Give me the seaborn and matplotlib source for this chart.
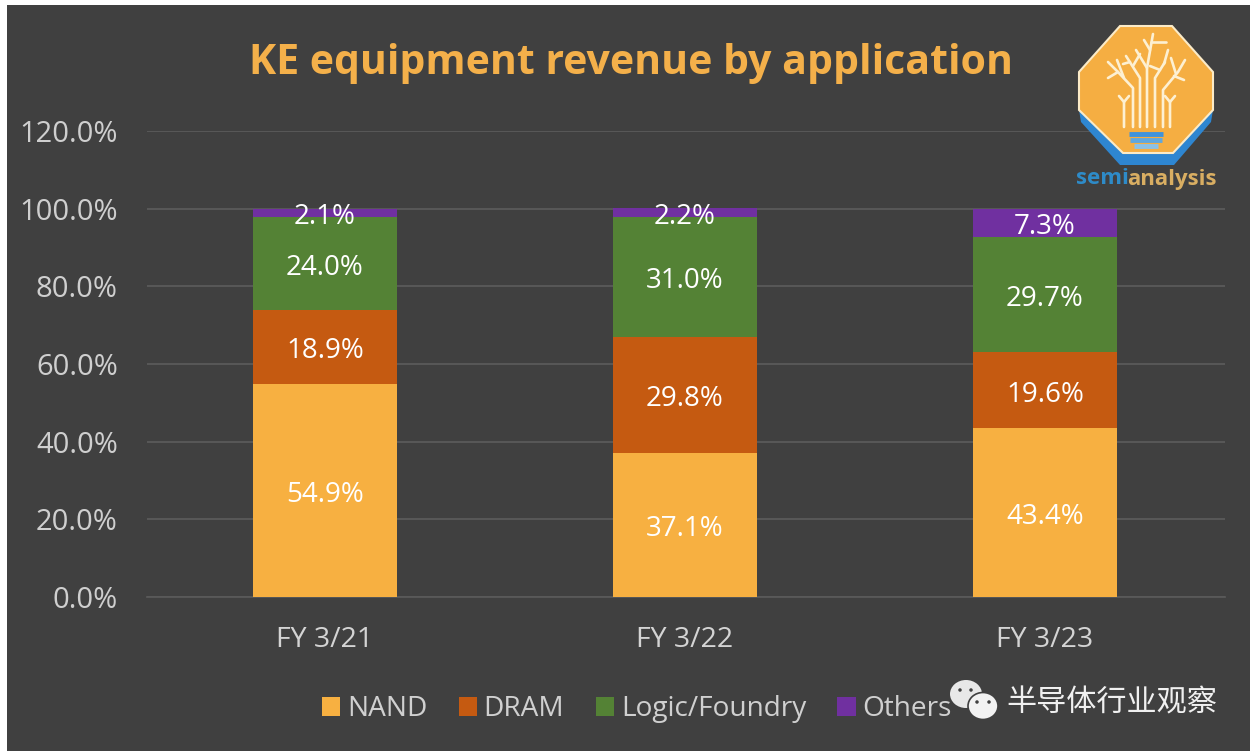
import numpy as np
import pandas as pd
import matplotlib
matplotlib.use("Agg")
import matplotlib.pyplot as plt
from matplotlib.patches import Rectangle, Polygon, Ellipse, Patch
import seaborn as sns

years = ["FY 3/21", "FY 3/22", "FY 3/23"]
nand = [54.9, 37.1, 43.4]
dram = [18.9, 29.8, 19.6]
logic = [24.0, 31.0, 29.7]
others = [2.1, 2.2, 7.3]
series_names = ["NAND", "DRAM", "Logic/Foundry", "Others"]
series_values = [nand, dram, logic, others]
colors = ["#F7B041", "#C55A11", "#548235", "#7030A0"]
yticks = [0, 20, 40, 60, 80, 100, 120]

W, H = 1253, 751
BG = "#404040"
sns.set_theme(style="dark")
plt.rcParams["font.family"] = ["Open Sans", "Noto Sans CJK SC", "DejaVu Sans"]

fig = plt.figure(figsize=(W / 100, H / 100), dpi=100, facecolor="white")
fig.add_artist(Rectangle((7 / W, 0), (1250 - 7) / W, 1 - 5 / H, transform=fig.transFigure,
                         facecolor=BG, edgecolor="none", zorder=-5))
ax = fig.add_axes([147 / W, 1 - 597 / H, (1225 - 147) / W, (597 - 131) / H])
ax.set_facecolor("none")

bottom = np.zeros(3)
for name, vals, col in zip(series_names, series_values, colors):
    df = pd.DataFrame({"year": years, "value": vals})
    sns.barplot(data=df, x="year", y="value", color=col, width=0.4, bottom=bottom,
                saturation=1, ax=ax, zorder=3, errorbar=None, linewidth=0, edgecolor="none")
    for i, v in enumerate(vals):
        ax.text(i, bottom[i] + v / 2 - 1.1, f"{v:.1f}%", ha="center", va="center",
                color="white", fontsize=20, zorder=5)
    bottom += np.array(vals)

ax.set_xlim(-0.4944, 2.5)
ax.set_ylim(0, 120)
ax.set_yticks(yticks)
ax.set_yticklabels([f"{t:.1f}%" for t in yticks])
ax.set_xlabel("")
ax.set_ylabel("")
ax.grid(axis="y", color="#5A5A5A", linewidth=1.3, zorder=0)
ax.grid(axis="x", visible=False)
ax.tick_params(axis="x", length=0, pad=21, labelsize=20.5, labelcolor="#D4D4D4")
ax.tick_params(axis="y", length=0, pad=21, labelsize=21, labelcolor="#CFCFCF")
for s in ax.spines.values():
    s.set_visible(False)
ax.spines["bottom"].set_visible(True)
ax.spines["bottom"].set_color("#5A5A5A")

fig.text(631 / W, 1 - 64 / H, "KE equipment revenue by application", ha="center", va="center",
         color="#F4B04A", fontsize=29.5, fontweight="bold")

handles = [Patch(facecolor=c, edgecolor="none") for c in colors]
fig.legend(handles, series_names, loc="center left", bbox_to_anchor=(322 / W, 1 - 709 / H),
           ncol=4, frameon=False, fontsize=20.2, labelcolor="#D0D0D0", handlelength=0.65,
           handleheight=0.65, handletextpad=0.24, columnspacing=1.12, borderpad=0, borderaxespad=0)

# logo, drawn in pixel coordinates of the picture
logo = fig.add_axes([0, 0, 1, 1], facecolor="none")
logo.set_xlim(0, W)
logo.set_ylim(H, 0)
logo.axis("off")
oct_blue = [(1079, 110), (1081, 122), (1120, 165), (1174, 165), (1211, 122), (1213, 110)]
oct_gold = [(1120, 26), (1172, 26), (1213, 72), (1213, 110), (1173, 153), (1123, 153), (1079, 110), (1079, 72)]
logo.add_patch(Polygon(oct_blue, closed=True, facecolor="#2E86D1", edgecolor="none"))
logo.add_patch(Polygon(oct_gold, closed=True, facecolor="#F5AE42", edgecolor="#FBEBC8", linewidth=1.5))
branches = [
    [(1124, 127), (1124, 102), (1119, 96)], [(1124, 102), (1129, 96)],
    [(1133, 127), (1133, 88), (1118, 72), (1108, 62)], [(1118, 72), (1108, 78)], [(1124, 78), (1117, 60)],
    [(1140, 127), (1140, 78), (1126, 56)], [(1130, 62), (1123, 64)], [(1133, 66), (1140, 54)],
    [(1147, 127), (1147, 68), (1153, 34)], [(1150, 50), (1144, 40)], [(1151, 42), (1166, 42)], [(1147, 68), (1136, 50)],
    [(1155, 127), (1155, 78), (1165, 62)], [(1160, 70), (1150, 66)], [(1164, 64), (1168, 50)],
    [(1163, 127), (1163, 90), (1178, 72), (1185, 60)], [(1174, 76), (1184, 80)], [(1176, 74), (1171, 58)],
    [(1170, 127), (1170, 102), (1175, 96)], [(1170, 102), (1165, 96)],
]
for pts in branches:
    logo.plot(*zip(*pts), color="#FDF0D2", lw=1.9, solid_capstyle="round", solid_joinstyle="round")
for y, x0, x1, c in [(134, 1129, 1163, "#3F93DC"), (140, 1130, 1162, "#5FA8E0"), (146, 1134, 1158, "#8CC1E6")]:
    logo.plot([x0, x1], [y, y], color=c, lw=3.5, solid_capstyle="butt")
logo.text(1076, 179, "semi", color="#2E8BC8", fontsize=16, fontweight="bold", va="center", ha="left")
logo.text(1127, 179, "analysis", color="#D9AE62", fontsize=16, fontweight="bold", va="center", ha="left")

# watermark
logo.add_patch(Ellipse((966, 694), 32, 28, facecolor="#E8E8E8", edgecolor="none"))
logo.add_patch(Ellipse((983, 706), 30, 27, facecolor="#F2F2F2", edgecolor=BG, linewidth=1.2))
for x, y in [(960, 690), (971, 690), (977, 702), (989, 702)]:
    logo.add_patch(Ellipse((x, y), 3.5, 3.5, facecolor=BG, edgecolor="none"))
logo.text(1006, 703, "半导体行业观察", color="#F0F0F0", fontsize=21.7, va="center", ha="left",
          family=["Noto Sans CJK SC", "DejaVu Sans"])

fig.savefig("out.png", dpi=100, facecolor="white")
